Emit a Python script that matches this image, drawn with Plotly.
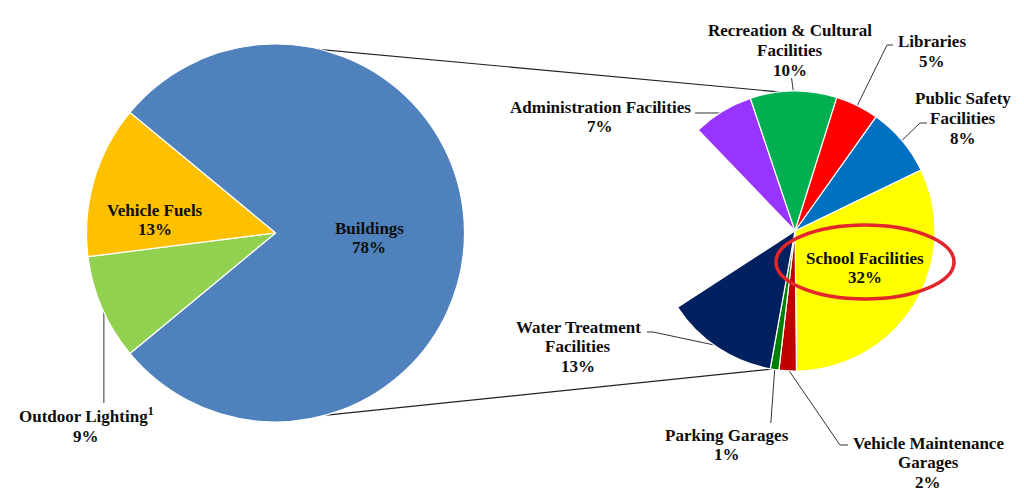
import math
import plotly.graph_objects as go

W, H = 1024, 495

# ---------------- data ----------------
main_labels = ["Buildings", "Outdoor Lighting", "Vehicle Fuels"]
main_values = [78, 9, 13]
main_colors = ["#4F81BD", "#92D050", "#FFC000"]

bld_labels = ["Administration Facilities", "Recreation & Cultural Facilities", "Libraries",
              "Public Safety Facilities", "School Facilities", "Vehicle Maintenance Garages",
              "Parking Garages", "Water Treatment Facilities"]
bld_values = [7, 10, 5, 8, 32, 2, 1, 13]
bld_colors = ["#9933FF", "#00B050", "#FF0000", "#0070C0", "#FFFF00", "#C00000", "#008000", "#002060"]

# ---------------- geometry (pixels) ----------------
L_CX, L_CY, L_R = 275.5, 233.0, 189.0
R_CX, R_CY, R_R = 795.0, 231.0, 140.0
L_START = -50.4      # degrees clockwise from 12 o'clock
R_START = 316.2

FONT = "Liberation Serif"


def px(x):
    return x / W


def py(y):
    return 1 - y / H


def polar(cx, cy, r, deg):
    a = math.radians(deg)
    return cx + r * math.sin(a), cy - r * math.cos(a)


def mid_angles(values, start, total=100.0):
    out, cum = [], start
    for v in values:
        span = 360.0 * v / total
        out.append(cum + span / 2)
        cum += span
    return out


fig = go.Figure()

fig.add_trace(go.Pie(
    labels=main_labels, values=main_values, sort=False, direction="clockwise",
    rotation=L_START, marker=dict(colors=main_colors, line=dict(color="white", width=1.2)),
    textinfo="none", hoverinfo="label+percent", showlegend=False,
    domain=dict(x=[px(L_CX - L_R), px(L_CX + L_R)], y=[py(L_CY + L_R), py(L_CY - L_R)]),
))

rest = 100 - sum(bld_values)
fig.add_trace(go.Pie(
    labels=bld_labels + ["other"], values=bld_values + [rest], sort=False, direction="clockwise",
    rotation=R_START - 360,
    marker=dict(colors=bld_colors + ["rgba(0,0,0,0)"],
                line=dict(color=["white"] * len(bld_values) + ["rgba(0,0,0,0)"],
                          width=[1.2] * len(bld_values) + [0])),
    textinfo="none", hoverinfo="label+value", showlegend=False,
    domain=dict(x=[px(R_CX - R_R), px(R_CX + R_R)], y=[py(R_CY + R_R), py(R_CY - R_R)]),
))

annotations = []


def add_label(lines, x, y0, dy=19.5, size=17):
    for i, t in enumerate(lines):
        annotations.append(dict(
            x=px(x), y=py(y0 + i * dy), xref="paper", yref="paper", text=f"<b>{t}</b>",
            showarrow=False, xanchor="center", yanchor="middle",
            font=dict(family=FONT, size=size, color="#0d0d0d"),
        ))


shapes = []


def add_path(points, color="#333333", width=1, layer="below"):
    d = "M " + " L ".join(f"{px(x):.5f},{py(y):.5f}" for x, y in points)
    shapes.append(dict(type="path", path=d, xref="paper", yref="paper",
                       line=dict(color=color, width=width), layer=layer))


# --- connector lines between the two pies ---
add_path([polar(L_CX, L_CY, L_R - 2, 7.4), polar(R_CX, R_CY, R_R - 2, 358.5)], color="#222222", width=1.2)
add_path([polar(L_CX, L_CY, L_R - 2, 169.4), polar(R_CX, R_CY, R_R - 2, 186.0)], color="#222222", width=1.2)

# --- left pie labels ---
lm = mid_angles(main_values, L_START)
add_label([f"{main_labels[0]}", f"{main_values[0]}%"], 369, 228)
add_label([f"{main_labels[2]}", f"{main_values[2]}%"], 155, 210)
ax, ay = polar(L_CX, L_CY, L_R - 2, lm[1])
add_path([(ax, ay), (ax, 403)])
add_label([f"{main_labels[1]}<sup>1</sup>", f"{main_values[1]}%"], 86, 415, dy=21)

# --- right pie labels ---
rm = mid_angles(bld_values, R_START)
anc = [polar(R_CX, R_CY, R_R - 2, a) for a in rm]

# Administration
add_path([anc[0], (720, 113), (695, 113)])
add_label(["Administration Facilities", f"{bld_values[0]}%"], 600, 107)
# Recreation
add_path([anc[1], (anc[1][0] - 2, 78)])
add_label(["Recreation &amp; Cultural", "Facilities", f"{bld_values[1]}%"], 790, 31)
# Libraries
add_path([anc[2], (887, 45), (893, 45)])
add_label(["Libraries", f"{bld_values[2]}%"], 932, 42)
# Public Safety
add_path([anc[3], (920, 123), (927, 123)])
add_label(["Public Safety", "Facilities", f"{bld_values[3]}%"], 963, 99)
# School
add_label(["School Facilities", f"{bld_values[4]}%"], 865, 258)
# Vehicle Maintenance
add_path([anc[5], (840, 445), (848, 445)])
add_label(["Vehicle Maintenance", "Garages", f"{bld_values[5]}%"], 928, 443)
# Parking
add_path([anc[6], (anc[6][0] - 4, 423)])
add_label(["Parking Garages", f"{bld_values[6]}%"], 727, 435)
# Water Treatment
add_path([anc[7], (653, 332), (647, 332)])
add_label(["Water Treatment", "Facilities", f"{bld_values[7]}%"], 578, 327)

# red highlight ellipse
shapes.append(dict(type="circle", xref="paper", yref="paper",
                   x0=px(776), x1=px(954), y0=py(299), y1=py(225),
                   line=dict(color="#E3262B", width=3.5), layer="above"))

fig.update_layout(
    width=W, height=H, margin=dict(l=0, r=0, t=0, b=0),
    paper_bgcolor="white", plot_bgcolor="white",
    annotations=annotations, shapes=shapes,
)

fig.write_html("out.html", config={"displayModeBar": False},
               post_script="document.body.style.margin='0';document.body.style.overflow='hidden';")
